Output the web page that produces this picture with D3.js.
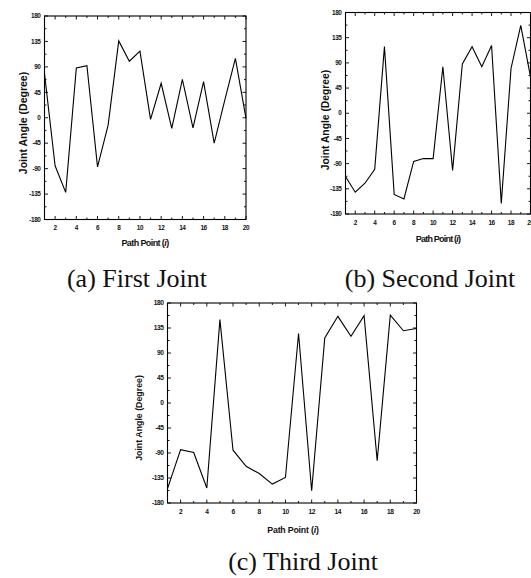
<!DOCTYPE html>
<html>
<head>
<meta charset="utf-8">
<script src="https://cdn.jsdelivr.net/npm/d3@7"></script>
<style>
  body { margin: 0; background: #fff; }
  svg { display: block; }
  .tick-label { font-family: "Liberation Sans", Arial, sans-serif; font-weight: bold; fill: #111; }
  .axis-title { font-family: "Liberation Sans", Arial, sans-serif; font-weight: bold; fill: #111; }
  .caption { font-family: "Liberation Serif", "Times New Roman", serif; fill: #111; }
</style>
</head>
<body>
<div id="chart"></div>
<script>
// path points along x
const pathPoints = [1, 2, 3, 4, 5, 6, 7, 8, 9, 10, 11, 12, 13, 14, 15, 16, 17, 18, 19, 20];

// joint angles (degrees)
const firstJoint  = [78, -85, -132, 88, 92, -87, -13, 136, 100, 118, -3, 61, -19, 68, -18, 64, -45, 31, 105, -1];
const secondJoint = [-113, -141, -125, -100, 119, -145, -153, -86, -81, -81, 83, -102, 88, 119, 83, 121, -161, 80, 157, 65];
const thirdJoint  = [-154, -84, -89, -153, 150, -85, -114, -127, -146, -134, 125, -158, 117, 156, 120, 157, -104, 158, 130, 134];

const xTickLabels = [2, 4, 6, 8, 10, 12, 14, 16, 18, 20];
const yTickLabels = [-180, -135, -90, -45, 0, 45, 90, 135, 180];
const captions = ["(a) First Joint", "(b) Second Joint", "(c) Third Joint"];

const W = 531, H = 578;

const svg = d3.select("#chart")
    .append("svg")
    .attr("width", W)
    .attr("height", H);

function drawPanel(p) {
    const x = d3.scaleLinear().domain([1, 20]).range([p.left, p.right]);
    const y = d3.scaleLinear().domain([-180, 180]).range([p.bottom, p.top]);
    const g = svg.append("g");

    // minor + major ticks, all pointing inwards, on all four sides
    const xMinor = d3.range(1, 21);
    const yMinor = d3.range(-180, 181, 22.5);

    xMinor.forEach(v => {
        const len = v % 2 === 0 ? 3.5 : 2;
        g.append("line").attr("x1", x(v)).attr("x2", x(v))
            .attr("y1", p.bottom).attr("y2", p.bottom - len)
            .attr("stroke", "#000").attr("stroke-width", 0.9);
        g.append("line").attr("x1", x(v)).attr("x2", x(v))
            .attr("y1", p.top).attr("y2", p.top + len)
            .attr("stroke", "#000").attr("stroke-width", 0.9);
    });
    yMinor.forEach(v => {
        const len = v % 45 === 0 ? 3.5 : 2;
        g.append("line").attr("y1", y(v)).attr("y2", y(v))
            .attr("x1", p.left).attr("x2", p.left + len)
            .attr("stroke", "#000").attr("stroke-width", 0.9);
        g.append("line").attr("y1", y(v)).attr("y2", y(v))
            .attr("x1", p.right).attr("x2", p.right - len)
            .attr("stroke", "#000").attr("stroke-width", 0.9);
    });

    // frame
    g.append("rect")
        .attr("x", p.left).attr("y", p.top)
        .attr("width", p.right - p.left).attr("height", p.bottom - p.top)
        .attr("fill", "none").attr("stroke", "#000").attr("stroke-width", 1.1);

    // data line
    const line = d3.line()
        .x((d, i) => x(pathPoints[i]))
        .y(d => y(d));
    g.append("path")
        .datum(p.data)
        .attr("d", line)
        .attr("fill", "none")
        .attr("stroke", "#000")
        .attr("stroke-width", 1.1)
        .attr("stroke-linejoin", "miter");

    // tick labels
    g.selectAll(".xl").data(xTickLabels).enter().append("text")
        .attr("class", "tick-label")
        .attr("x", d => x(d))
        .attr("y", p.bottom + p.tickFs + 4.5)
        .attr("text-anchor", "middle")
        .attr("font-size", p.tickFs)
        .attr("letter-spacing", -0.4)
        .text(d => d);
    g.selectAll(".yl").data(yTickLabels).enter().append("text")
        .attr("class", "tick-label")
        .attr("x", p.left - 4)
        .attr("y", d => y(d) + p.tickFs * 0.35)
        .attr("text-anchor", "end")
        .attr("font-size", p.tickFs)
        .attr("letter-spacing", -0.4)
        .text(d => d);

    // x title
    const xt = g.append("text")
        .attr("class", "axis-title")
        .attr("x", p.xTitle[0]).attr("y", p.xTitle[1])
        .attr("text-anchor", "middle")
        .attr("font-size", p.titleFs)
        .attr("letter-spacing", p.xSpacing);
    xt.append("tspan").text("Path Point (");
    xt.append("tspan").attr("font-style", "italic").text("i");
    xt.append("tspan").text(")");

    // y title
    g.append("text")
        .attr("class", "axis-title")
        .attr("transform", `translate(${p.yTitle[0]},${p.yTitle[1]}) rotate(-90)`)
        .attr("text-anchor", "middle")
        .attr("font-size", p.yFs)
        .text("Joint Angle (Degree)");

    // caption
    svg.append("text")
        .attr("class", "caption")
        .attr("x", p.caption[0]).attr("y", p.caption[1])
        .attr("text-anchor", "middle")
        .attr("font-size", 26)
        .text(p.captionText);
}

drawPanel({
    left: 44.5, right: 246, top: 16, bottom: 219.5,
    data: firstJoint, tickFs: 6.4, titleFs: 9, xSpacing: -0.6, yFs: 10.5,
    xTitle: [145, 245.5], yTitle: [26.5, 123],
    caption: [137, 287], captionText: captions[0]
});

drawPanel({
    left: 345.5, right: 530.5, top: 12.5, bottom: 214,
    data: secondJoint, tickFs: 6.4, titleFs: 9, xSpacing: -0.8, yFs: 10.3,
    xTitle: [438, 242], yTitle: [328.5, 120],
    caption: [430, 287], captionText: captions[1]
});

drawPanel({
    left: 167.5, right: 416.5, top: 303, bottom: 503,
    data: thirdJoint, tickFs: 6.6, titleFs: 8.8, xSpacing: -0.2, yFs: 8.8,
    xTitle: [293, 533], yTitle: [142, 418],
    caption: [303, 570], captionText: captions[2]
});
</script>
</body>
</html>
